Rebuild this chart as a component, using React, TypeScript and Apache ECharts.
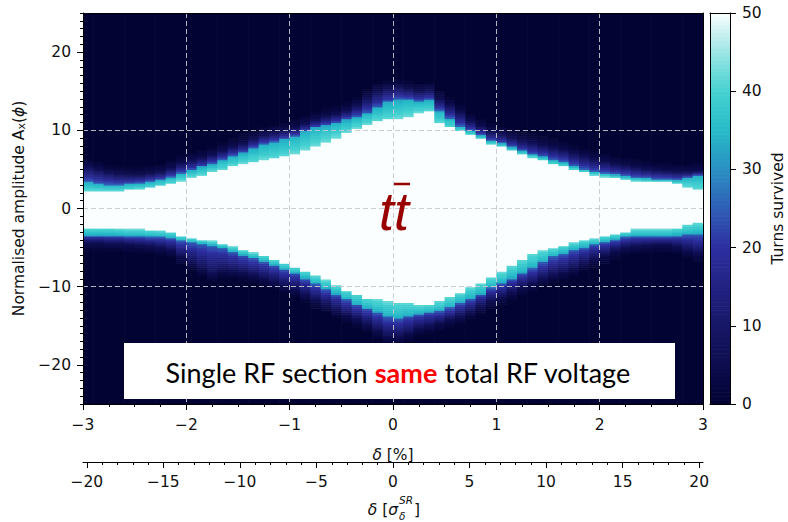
import { useEffect, useRef } from 'react';
import * as echarts from 'echarts';

// ---------------- data ----------------
const DELTA_BINS = [
  -2.95, -2.85, -2.75, -2.65, -2.55, -2.45, -2.35, -2.25, -2.15, -2.05,
  -1.95, -1.85, -1.75, -1.65, -1.55, -1.45, -1.35, -1.25, -1.15, -1.05,
  -0.95, -0.85, -0.75, -0.65, -0.55, -0.45, -0.35, -0.25, -0.15, -0.05,
  0.05, 0.15, 0.25, 0.35, 0.45, 0.55, 0.65, 0.75, 0.85, 0.95,
  1.05, 1.15, 1.25, 1.35, 1.45, 1.55, 1.65, 1.75, 1.85, 1.95,
  2.05, 2.15, 2.25, 2.35, 2.45, 2.55, 2.65, 2.75, 2.85, 2.95,
];
const BIN_WIDTH = 0.1;

// amplitude where the fully-surviving (white) core ends, above A=0
const upperWhite = [
  2.3, 2.3, 2.3, 2.3, 2.4, 2.5, 2.7, 2.9, 3.2, 3.6,
  4.0, 4.3, 4.7, 5.0, 5.4, 5.8, 6.0, 6.3, 6.5, 6.7,
  7.0, 7.5, 8.0, 8.6, 9.1, 9.7, 10.3, 10.8, 11.2, 11.5,
  11.6, 11.8, 12.3, 12.4, 11.0, 10.4, 9.9, 9.4, 8.9, 8.3,
  7.9, 7.4, 7.0, 6.6, 6.2, 5.7, 5.4, 5.0, 4.7, 4.3,
  4.1, 3.9, 3.7, 3.6, 3.5, 3.4, 3.4, 3.2, 2.8, 2.5,
];
// outer edge of the cyan band, above A=0
const upperCyan = [
  3.4, 3.2, 3.1, 3.1, 3.2, 3.3, 3.5, 3.7, 4.1, 4.6,
  5.0, 5.4, 5.8, 6.3, 6.8, 7.2, 7.8, 8.3, 8.6, 8.9,
  9.3, 9.9, 10.4, 10.7, 11.0, 11.4, 11.8, 12.3, 13.0, 13.7,
  14.0, 14.0, 13.8, 13.9, 12.6, 11.6, 10.6, 10.0, 9.4, 8.7,
  8.4, 7.9, 7.4, 7.0, 6.7, 6.3, 6.0, 5.5, 5.1, 4.8,
  4.6, 4.4, 4.2, 4.0, 3.9, 3.8, 3.8, 3.7, 4.0, 4.3,
];
// outer edge of the blue fringe, above A=0
const upperBlue = [
  5.4, 5.0, 4.6, 4.4, 4.3, 4.3, 4.5, 4.7, 5.2, 5.8,
  6.2, 6.5, 6.9, 7.4, 7.9, 8.3, 8.9, 9.4, 9.7, 10.0,
  10.3, 10.9, 11.4, 11.8, 12.1, 12.6, 13.2, 14.2, 15.0, 15.4,
  15.6, 15.3, 15.0, 15.2, 14.0, 13.2, 12.3, 11.2, 10.5, 9.8,
  9.5, 9.1, 8.7, 8.4, 8.1, 7.8, 7.5, 7.1, 6.7, 6.3,
  6.0, 5.7, 5.5, 5.3, 5.1, 4.9, 4.8, 4.7, 4.7, 4.8,
];
// the same three edges below A=0
const lowerWhite = [
  -2.4, -2.4, -2.4, -2.5, -2.6, -2.6, -2.7, -2.8, -3.0, -3.4,
  -3.7, -3.9, -4.1, -4.4, -4.8, -5.2, -5.6, -6.0, -6.5, -6.9,
  -7.4, -7.9, -8.5, -9.1, -9.8, -10.4, -10.9, -11.4, -11.6, -11.8,
  -11.9, -12.0, -12.2, -12.2, -11.8, -11.3, -10.7, -10.0, -9.4, -8.7,
  -8.1, -7.2, -6.4, -5.7, -5.3, -5.0, -4.7, -4.3, -4.0, -3.8,
  -3.5, -3.2, -2.9, -2.6, -2.6, -2.6, -2.6, -2.4, -2.0, -1.7,
];
const lowerCyan = [
  -3.4, -3.4, -3.4, -3.4, -3.5, -3.5, -3.6, -3.6, -3.7, -4.1,
  -4.3, -4.5, -4.7, -5.0, -5.5, -5.9, -6.3, -6.7, -7.2, -7.7,
  -8.2, -8.9, -9.6, -10.3, -10.9, -11.6, -12.2, -12.7, -13.2, -13.8,
  -14.0, -13.7, -13.4, -13.2, -13.0, -12.6, -12.0, -11.5, -10.9, -10.1,
  -9.5, -8.9, -8.2, -7.6, -6.8, -6.1, -5.7, -5.2, -4.9, -4.5,
  -4.2, -3.9, -3.6, -3.5, -3.5, -3.5, -3.5, -3.4, -3.3, -3.3,
];
const lowerBlue = [
  -4.3, -4.3, -4.4, -4.4, -4.5, -4.6, -4.7, -4.9, -5.2, -6.0,
  -6.8, -7.5, -8.2, -7.8, -7.9, -8.1, -8.4, -8.8, -9.2, -9.7,
  -10.2, -10.9, -11.6, -12.2, -12.9, -13.5, -14.1, -14.7, -15.5, -16.2,
  -16.3, -15.8, -15.2, -14.9, -14.5, -14.1, -13.7, -13.1, -12.4, -11.7,
  -11.2, -10.6, -10.0, -9.5, -8.9, -8.4, -8.0, -7.5, -6.9, -6.3,
  -5.8, -5.3, -4.9, -4.7, -4.6, -4.5, -4.5, -4.7, -5.2, -5.6,
];
// turns survived in each band: core, cyan inner/outer, blue inner/outer, halo
const TURN_LEVELS = [50, 42, 33, 25, 7, 6];

const X_TICKS = [-3, -2, -1, 0, 1, 2, 3];
const Y_TICKS = [-20, -10, 0, 10, 20];
const SIGMA_TICKS = [-20, -15, -10, -5, 0, 5, 10, 15, 20];
const CBAR_TICKS = [0, 10, 20, 30, 40, 50];
const TURNS_MAX = 50;

const CMAP = [
  '#030333', '#0c0c4e', '#171767', '#222283', '#2d2fa0', '#2f5eb6',
  '#2a8fc2', '#27bbc8', '#46d1d1', '#9be5e5', '#fafefe',
];

// ---------------- layout ----------------
const PLOT = { left: 83, top: 13, width: 620, height: 391 };
const SIGMA_TOP = 461;
const CBAR = { left: 710, top: 13, width: 20, height: 391 };
const Y_MIN = -25, Y_MAX = 25, ROW_STEP = 0.25;
const SIGMA_RANGE = 20.25;
const FONT = 'DejaVu Sans';
const FS = 15.5;
const INK = '#111';

function bandValue(d: number, W: number, C: number, B: number) {
  const [core, cIn, cOut, bIn, bOut, halo] = TURN_LEVELS;
  if (d <= W) return core;
  if (d <= C) return cIn - (cIn - cOut) * (d - W) / (C - W);
  if (d <= B) return bIn - (bIn - bOut) * (d - C) / (B - C);
  return Math.max(0, halo - 5 * (d - B));
}

function buildCells() {
  const cells: number[][] = [];
  const rows = Math.round((Y_MAX - Y_MIN) / ROW_STEP);
  DELTA_BINS.forEach((x, i) => {
    let runStart = Y_MIN;
    let runVal: number | null = null;
    for (let k = 0; k < rows; k++) {
      const y0 = Y_MIN + k * ROW_STEP;
      const yc = y0 + ROW_STEP / 2;
      const v = yc >= 0
        ? bandValue(yc, upperWhite[i], upperCyan[i], upperBlue[i])
        : bandValue(-yc, -lowerWhite[i], -lowerCyan[i], -lowerBlue[i]);
      const q = Math.round(v);
      if (runVal === null) { runVal = q; runStart = y0; }
      else if (q !== runVal) { cells.push([x, runStart, y0, runVal]); runVal = q; runStart = y0; }
    }
    cells.push([x, runStart, Y_MAX, runVal as number]);
  });
  return cells;
}

function buildColorbar() {
  const out: number[][] = [];
  for (let v = 0; v < TURNS_MAX; v += 0.5) out.push([0.5, v, v + 0.5, v + 0.25]);
  return out;
}

const fmt = (v: number) => (v < 0 ? '\u2212' + Math.abs(v) : String(v));
const spine = { show: true, onZero: false, lineStyle: { color: '#000', width: 1 } };
const labelStyle = { fontFamily: FONT, fontSize: FS, color: INK };
const gridLine = { show: true, showMinLine: false, showMaxLine: false, lineStyle: { color: 'rgba(200,200,210,0.9)', type: [5, 3], width: 1 } };

export default function App() {
  const ref = useRef<HTMLDivElement>(null);
  useEffect(() => {
    if (!ref.current) return;
    const chart = echarts.init(ref.current, null, { renderer: 'svg' });
    const cells = buildCells();
    const cbar = buildColorbar();
    const minorY = Array.from({ length: 51 }, (_, k) => k - 25);
    const minorSigma = Array.from({ length: 41 }, (_, k) => k - 20);
    const gridBase = { outerBoundsMode: 'none', containLabel: false };

    const option: any = {
      animation: false,
      backgroundColor: '#fff',
      grid: [
        { ...gridBase, ...PLOT },
        { ...gridBase, ...PLOT },
        { ...gridBase, left: PLOT.left, width: PLOT.width, top: SIGMA_TOP, height: 1 },
        { ...gridBase, left: PLOT.left, width: PLOT.width, top: SIGMA_TOP, height: 1 },
        { ...gridBase, ...CBAR },
      ],
      xAxis: [
        {
          type: 'value', gridIndex: 0, position: 'bottom', min: X_TICKS[0], max: X_TICKS[X_TICKS.length - 1], interval: 1, z: 10,
          axisLine: spine,
          axisTick: { show: true, length: 6, lineStyle: { color: '#000' } },
          minorTick: { show: true, splitNumber: 4, length: 3, lineStyle: { color: '#000' } },
          axisLabel: { ...labelStyle, margin: 13, formatter: fmt },
          splitLine: gridLine,
          name: '{i|δ} [%]', nameLocation: 'middle', nameGap: 43,
          nameTextStyle: { ...labelStyle, rich: { i: { ...labelStyle, fontStyle: 'italic' } } },
        },
        {
          type: 'value', gridIndex: 0, position: 'top', min: -3, max: 3, z: 10,
          axisLine: spine, axisTick: { show: false }, axisLabel: { show: false }, splitLine: { show: false },
        },
        { type: 'value', gridIndex: 1, min: -3, max: 3, show: false },
        {
          type: 'value', gridIndex: 2, position: 'bottom', min: -SIGMA_RANGE, max: SIGMA_RANGE,
          axisLine: spine,
          axisTick: { show: true, length: 6, customValues: SIGMA_TICKS, lineStyle: { color: '#000' } },
          axisLabel: { ...labelStyle, margin: 12, customValues: SIGMA_TICKS, formatter: fmt },
          splitLine: { show: false },
        },
        {
          type: 'value', gridIndex: 3, position: 'bottom', min: -SIGMA_RANGE, max: SIGMA_RANGE,
          axisLine: { show: false, onZero: false },
          axisTick: { show: true, length: 3, customValues: minorSigma, lineStyle: { color: '#000' } },
          axisLabel: { show: false }, splitLine: { show: false },
        },
        {
          type: 'value', gridIndex: 4, position: 'bottom', min: 0, max: 1, z: 10,
          axisLine: spine, axisTick: { show: false }, axisLabel: { show: false }, splitLine: { show: false },
        },
        {
          type: 'value', gridIndex: 4, position: 'top', min: 0, max: 1, z: 10,
          axisLine: spine, axisTick: { show: false }, axisLabel: { show: false }, splitLine: { show: false },
        },
      ],
      yAxis: [
        {
          type: 'value', gridIndex: 0, position: 'left', min: Y_MIN, max: Y_MAX, splitNumber: 5, z: 10,
          axisLine: spine,
          axisTick: { show: true, length: 6, customValues: Y_TICKS, lineStyle: { color: '#000' } },
          axisLabel: { ...labelStyle, margin: 12, customValues: Y_TICKS, formatter: fmt },
          splitLine: gridLine,
          name: 'Normalised amplitude A{sub|x}({i|ϕ})', nameLocation: 'middle', nameRotate: 90, nameGap: 50,
          nameTextStyle: {
            ...labelStyle,
            rich: {
              sub: { ...labelStyle, fontSize: 11, padding: [6, 0, 0, 0] },
              i: { ...labelStyle, fontStyle: 'italic' },
            },
          },
        },
        {
          type: 'value', gridIndex: 0, position: 'right', min: Y_MIN, max: Y_MAX, z: 10,
          axisLine: spine, axisTick: { show: false }, axisLabel: { show: false }, splitLine: { show: false },
        },
        {
          type: 'value', gridIndex: 1, position: 'left', min: Y_MIN, max: Y_MAX, z: 10,
          axisLine: { show: false, onZero: false },
          axisTick: { show: true, length: 3, customValues: minorY, lineStyle: { color: '#000' } },
          axisLabel: { show: false }, splitLine: { show: false },
        },
        { type: 'value', gridIndex: 2, min: 0, max: 1, show: false },
        { type: 'value', gridIndex: 3, min: 0, max: 1, show: false },
        {
          type: 'value', gridIndex: 4, position: 'right', min: CBAR_TICKS[0], max: TURNS_MAX, interval: 10, z: 10,
          axisLine: spine,
          axisTick: { show: true, length: 6, lineStyle: { color: '#000' } },
          axisLabel: { ...labelStyle, margin: 12, formatter: fmt },
          splitLine: { show: false },
          name: 'Turns survived', nameLocation: 'middle', nameRotate: 90, nameGap: 40,
          nameTextStyle: labelStyle,
        },
        {
          type: 'value', gridIndex: 4, position: 'left', min: 0, max: TURNS_MAX, z: 10,
          axisLine: spine, axisTick: { show: false }, axisLabel: { show: false }, splitLine: { show: false },
        },
      ],
      visualMap: {
        type: 'continuous', show: false, min: 0, max: TURNS_MAX, dimension: 3,
        seriesIndex: [0, 1], inRange: { color: CMAP },
      },
      series: [
        {
          type: 'custom', xAxisIndex: 0, yAxisIndex: 0, silent: true, clip: true,
          data: cells,
          encode: { x: 0, y: [1, 2] },
          renderItem: (_p: any, api: any) => {
            const x = api.value(0);
            const tl = api.coord([x - BIN_WIDTH / 2, api.value(2)]);
            const br = api.coord([x + BIN_WIDTH / 2, api.value(1)]);
            return {
              type: 'rect',
              shape: { x: tl[0], y: tl[1], width: br[0] - tl[0] + 0.6, height: br[1] - tl[1] + 0.6 },
              style: { fill: api.visual('color') },
            };
          },
        },
        {
          type: 'custom', xAxisIndex: 5, yAxisIndex: 5, silent: true,
          data: cbar,
          encode: { y: [1, 2] },
          renderItem: (_p: any, api: any) => {
            const tl = api.coord([0, api.value(2)]);
            const br = api.coord([1, api.value(1)]);
            return {
              type: 'rect',
              shape: { x: tl[0], y: tl[1], width: br[0] - tl[0], height: br[1] - tl[1] + 0.6 },
              style: { fill: api.visual('color') },
            };
          },
        },
      ],
      graphic: [
        { type: 'rect', z: 100, shape: { x: 124, y: 343, width: 551, height: 56 }, style: { fill: '#fff' } },
        {
          type: 'text', z: 101, x: 398, y: 372,
          style: {
            text: '{n|Single RF section }{r|same}{n| total RF voltage}',
            align: 'center', verticalAlign: 'middle',
            rich: {
              n: { fontFamily: 'Lato', fontSize: 27, fill: '#000' },
              r: { fontFamily: 'Lato', fontSize: 27, fontWeight: 'bold', fill: '#ff0000' },
            },
          },
        },
        {
          type: 'text', z: 101, x: 394, y: 211,
          style: { text: 'tt', fontFamily: 'Liberation Sans', fontStyle: 'italic', fontSize: 54, fill: '#990000', align: 'center', verticalAlign: 'middle' },
        },
        { type: 'line', z: 101, shape: { x1: 394, y1: 184, x2: 410, y2: 184 }, style: { stroke: '#990000', lineWidth: 2.5 } },
        {
          type: 'text', z: 101, x: 398, y: 510,
          style: {
            text: '{i|δ} [{i|σ}', align: 'right', verticalAlign: 'middle', fontFamily: FONT, fontSize: FS, fill: INK,
            rich: { i: { fontFamily: FONT, fontSize: FS, fontStyle: 'italic', fill: INK } },
          },
        },
        { type: 'text', z: 101, x: 399, y: 500, style: { text: 'SR', fontFamily: FONT, fontSize: 10.5, fontStyle: 'italic', fill: INK, align: 'left', verticalAlign: 'middle' } },
        { type: 'text', z: 101, x: 399, y: 516, style: { text: 'δ', fontFamily: FONT, fontSize: 10.5, fontStyle: 'italic', fill: INK, align: 'left', verticalAlign: 'middle' } },
        { type: 'text', z: 101, x: 414, y: 510, style: { text: ']', fontFamily: FONT, fontSize: FS, fill: INK, align: 'left', verticalAlign: 'middle' } },
      ],
    };
    chart.setOption(option);
    return () => chart.dispose();
  }, []);
  return (
    <div
      ref={ref}
      style={{ position: 'absolute', left: 0, top: 0, width: 788, height: 522, background: '#fff' }}
    />
  );
}
